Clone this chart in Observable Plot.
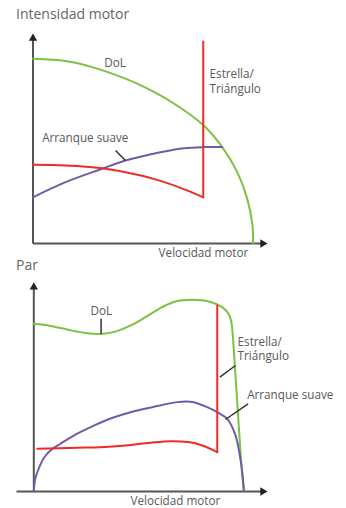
<!DOCTYPE html>
<html><head><meta charset="utf-8">
<script src="https://cdn.jsdelivr.net/npm/d3@7"></script>
<script src="https://cdn.jsdelivr.net/npm/@observablehq/plot@0.6"></script>
<style>
body{margin:0;background:#fff;font-family:"Open Sans",sans-serif;}
#wrap{width:346px;height:508px;overflow:hidden;}
.title{font-size:14px;color:#666;padding-left:16px;white-space:nowrap;}
#t1{height:27px;line-height:27px;}
#t2{height:13px;line-height:13px;}
svg{display:block;overflow:visible;}
</style></head><body><div id="wrap"></div>
<script>
// ---- Panel 1: Intensidad motor (x = velocidad %, y = intensidad %) ----
const intDoL = [[0,88],[13.9,86.9],[25.2,84.0],[39.4,78.5],[48.0,74.2],[59.9,66.8],[72.8,56.2],[80.7,45.9],[87.1,34.0],[91.3,21.5],[93.5,9.5],[93.9,0]];
const intEstrella = [[0,37.5],[13.9,37.2],[29.5,35.8],[46.5,32.3],[54.4,29.8],[64.3,25.9],[72.6,22.0]];
const intEstrellaJump = [[72.6,22.0],[72.6,96.2]];
const intSuave = [[0,22.0],[13.9,29.2],[29.5,35.6],[39.4,39.5],[48.0,41.9],[54.4,43.5],[64.3,45.4],[72.8,45.9],[80.7,45.9]];
const intLabels = [
  {text:"DoL", x:35.0, y:84.0, anchor:"middle"},
  {text:"Arranque suave", x:3.9, y:48.2, anchor:"start"},
  {text:"Estrella/\nTriángulo", x:75.3, y:71.9, anchor:"start"}
];
const intLeaders = [[35.2,44.3,39.4,39.5]];

// ---- Panel 2: Par (x = velocidad %, y = par %) ----
const parDoL = [[0,80.1],[7.1,79.1],[14.3,77.4],[22.1,75.7],[28.5,75.3],[34.9,76.4],[42.8,80.1],[47.8,83.3],[54.9,88.1],[60.6,90.8],[67.8,91.6],[74.9,90.8],[80.6,88.1],[83.3,85.0],[84.4,81.7],[84.9,77.7],[86.3,55.4],[87.7,31.5],[89.2,7.6],[89.9,0]];
const parEstrella = [[1.5,20.4],[18.6,20.9],[28.5,21.2],[39.2,22.0],[50.0,23.3],[58.5,24.0],[66.0,23.6],[72.1,22.0],[78.5,18.8]];
const parEstrellaJump = [[78.5,18.8],[78.5,88.9]];
const parSuave = [[0,0],[0.5,5.3],[1.5,9.2],[4.3,16.0],[7.1,19.6],[11.4,22.8],[17.8,27.2],[25.7,31.5],[32.8,34.9],[41.4,37.9],[50.7,40.3],[61.4,42.7],[67.9,42.8],[74.2,40.3],[78.5,37.9],[82.8,34.7],[86.3,26.8],[88.4,15.6],[89.4,7.2],[89.9,0]];
const parLabels = [
  {text:"DoL", x:28.9, y:84.4, anchor:"middle"},
  {text:"Estrella/\nTriángulo", x:87.2, y:62.6, anchor:"start"},
  {text:"Arranque suave", x:91.3, y:44.4, anchor:"start"}
];
const parLeaders = [[28.8,82.5,28.8,75.3],[86.3,60.2,79.6,54.6],[91.7,41.9,82.0,34.4]];

const titles = ["Intensidad motor", "Par"];
const xTitle = "Velocidad motor";

const green = "#7cc142", red = "#ee2b25", purple = "#7259a9", axisColor = "#555", textColor = "#58595b";

const rows = (pairs, seg) => pairs.map(([x, y]) => ({x, y, seg}));

function panel(o) {
  const lines = [
    {data: rows(o.dol, "a"), color: green},
    {data: rows(o.suave, "a"), color: purple},
    {data: [...rows(o.est, "a"), ...rows(o.jump, "b")], color: red}
  ];
  return Plot.plot({
    width: 346, height: o.height,
    marginTop: o.mt, marginBottom: o.mb, marginLeft: o.ml, marginRight: o.mr,
    x: {domain: [0, 100], axis: null},
    y: {domain: [0, 100], axis: null},
    style: {fontFamily: "'Open Sans', sans-serif", fontSize: "11.7px", color: textColor, background: "transparent", overflow: "visible"},
    marks: [
      Plot.link([{x1: 0, y1: 0, x2: 0, y2: 98}], {x1: "x1", y1: "y1", x2: "x2", y2: "y2", stroke: axisColor, strokeWidth: 2}),
      Plot.link([{x1: o.xStart, y1: 0, x2: 98.5, y2: 0}], {x1: "x1", y1: "y1", x2: "x2", y2: "y2", stroke: axisColor, strokeWidth: 2}),
      Plot.dot([{x: 0, y: 100}], {x: "x", y: "y", symbol: "triangle", r: 3.1, fill: "#222", stroke: null, dy: 4.8}),
      Plot.dot([{x: 100, y: 0}], {x: "x", y: "y", symbol: "triangle", r: 3.1, fill: "#222", stroke: null, rotate: 90, dx: -4.8}),
      ...lines.map(l => Plot.line(l.data, {x: "x", y: "y", z: "seg", stroke: l.color, strokeWidth: 2, curve: "catmull-rom", strokeLinecap: "round"})),
      Plot.link(o.leaders.map(([x1, y1, x2, y2]) => ({x1, y1, x2, y2})), {x1: "x1", y1: "y1", x2: "x2", y2: "y2", stroke: "#333", strokeWidth: 1.5}),
      Plot.text(o.labels.filter(d => d.anchor === "start"), {x: "x", y: "y", text: "text", textAnchor: "start", lineAnchor: "bottom", lineHeight: 1.24, fill: textColor}),
      Plot.text(o.labels.filter(d => d.anchor === "middle"), {x: "x", y: "y", text: "text", textAnchor: "middle", lineAnchor: "bottom", fill: textColor}),
      Plot.text([o.xlab], {x: "x", y: "y", text: "text", textAnchor: "middle", lineAnchor: "bottom", fill: textColor})
    ]
  });
}

const wrap = document.getElementById("wrap");
const t1 = document.createElement("div"); t1.className = "title"; t1.id = "t1"; t1.textContent = titles[0];
wrap.appendChild(t1);
wrap.appendChild(panel({height: 231, mt: 6, mb: 15, ml: 32.5, mr: 79, dol: intDoL, suave: intSuave, est: intEstrella, jump: intEstrellaJump,
  labels: intLabels, leaders: intLeaders, xStart: 0, xlab: {text: xTitle, x: 72.7, y: -6.5}}));
const t2 = document.createElement("div"); t2.className = "title"; t2.id = "t2"; t2.textContent = titles[1];
wrap.appendChild(t2);
wrap.appendChild(panel({height: 237, mt: 10.7, mb: 17, ml: 33.3, mr: 79, dol: parDoL, suave: parSuave, est: parEstrella, jump: parEstrellaJump,
  labels: parLabels, leaders: parLeaders, xStart: -7.4, xlab: {text: xTitle, x: 60.6, y: -6.5}}));
</script></body></html>
